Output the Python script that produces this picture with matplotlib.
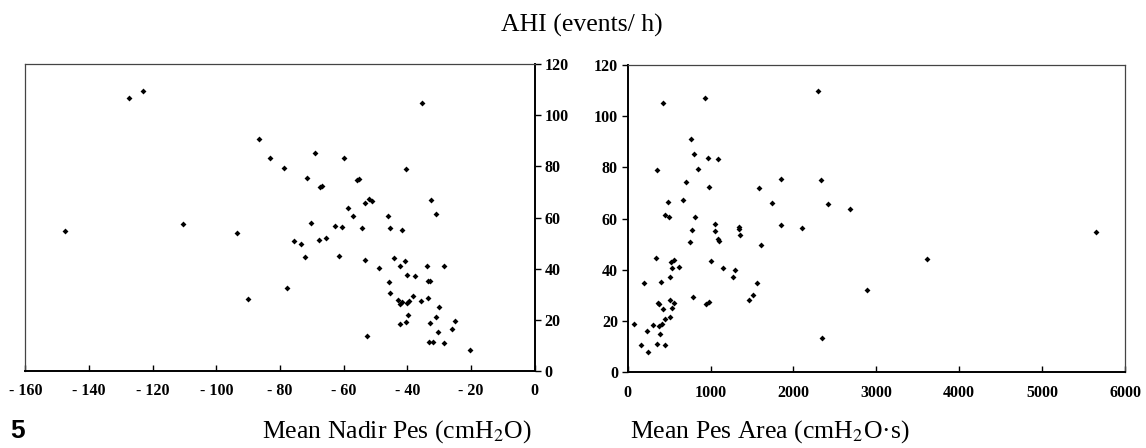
import matplotlib
matplotlib.use("Agg")
import matplotlib.pyplot as plt

# Left panel: Mean Nadir Pes (cmH2O) vs AHI
nadir_pes = [-147.4, -127.5, -122.9, -110.5, -93.4, -90.1, -86.5, -83.1, -78.6, -77.7,
             -75.7, -73.4, -72.1, -71.4, -70.2, -68.9, -67.4, -66.8, -67.6, -65.5,
             -62.8, -61.5, -60.6, -59.8, -58.7, -57.1, -55.9, -55.3, -54.3, -53.3,
             -53.4, -52.1, -51.0, -52.6, -48.8, -46.1, -45.5, -45.7, -45.5, -44.3,
             -43.0, -42.4, -41.6, -42.3, -42.2, -41.8, -40.7, -40.3, -40.2, -40.4,
             -39.9, -40.0, -39.4, -37.7, -38.2, -35.6, -35.3, -33.7, -33.6, -33.4,
             -32.9, -33.3, -32.0, -32.8, -32.5, -31.1, -30.9, -30.1, -30.3, -28.6,
             -28.4, -25.9, -25.1, -20.3]
ahi_nadir = [54.8, 106.8, 109.4, 57.4, 53.8, 28.2, 90.8, 83.2, 79.4, 32.5,
             50.8, 49.6, 44.7, 75.4, 58.0, 85.2, 72.0, 72.3, 51.2, 52.0,
             56.7, 44.9, 56.2, 83.4, 63.7, 60.5, 74.6, 75.1, 55.8, 65.7,
             43.5, 67.2, 66.3, 13.7, 40.1, 60.5, 55.9, 34.9, 30.3, 44.1,
             27.8, 26.0, 27.0, 18.3, 41.0, 55.0, 43.0, 78.8, 37.6, 19.2,
             21.8, 26.4, 27.2, 37.2, 29.4, 27.3, 104.8, 41.1, 28.4, 35.1,
             35.1, 11.1, 11.4, 18.7, 66.7, 21.2, 61.3, 25.1, 15.0, 41.0,
             10.8, 16.2, 19.3, 8.0]

# Right panel: Mean Pes Area (cmH2O·s) vs AHI
pes_area = [421, 931, 759, 799, 963, 1088, 349, 843, 706, 983,
            1582, 482, 663, 449, 501, 807, 1048, 775, 1056, 1337,
            1337, 1349, 1092, 1104, 755, 1610, 337, 562, 522, 1004,
            538, 622, 1145, 1297, 1272, 514, 196, 401, 1558, 1514,
            783, 1465, 361, 381, 506, 562, 940, 983, 429, 538,
            449, 514, 72, 309, 377, 417, 233, 393, 160, 357,
            453, 241, 2297, 1851, 2337, 1735, 2417, 2687, 1855, 2100,
            2887, 2345, 3614, 5646]
ahi_area = [105.3, 107.2, 91.0, 85.2, 83.5, 83.3, 79.0, 79.5, 74.5, 72.3,
            72.1, 66.6, 67.1, 61.3, 60.5, 60.6, 58.1, 55.6, 55.0, 56.8,
            56.0, 53.8, 51.9, 51.2, 50.7, 49.6, 44.8, 44.0, 42.9, 43.4,
            40.8, 41.2, 40.9, 39.9, 37.4, 37.1, 34.8, 35.2, 34.8, 30.1,
            29.3, 28.1, 27.1, 26.6, 28.1, 27.1, 26.5, 27.6, 24.9, 25.3,
            21.0, 21.6, 19.0, 18.5, 18.0, 19.0, 16.0, 14.9, 10.7, 11.2,
            10.8, 7.8, 109.9, 75.4, 75.1, 66.3, 65.7, 63.7, 57.6, 56.2,
            32.3, 13.4, 44.4, 54.8]

y_ticks = [0, 20, 40, 60, 80, 100, 120]
left_xticks = [-160, -140, -120, -100, -80, -60, -40, -20, 0]
left_xlabels = ["- 160", "- 140", "- 120", "- 100", "- 80", "- 60", "- 40", "- 20", "0"]
right_xticks = [0, 1000, 2000, 3000, 4000, 5000, 6000]

plt.rcParams['font.family'] = ['Liberation Serif', 'DejaVu Serif']
plt.rcParams['mathtext.fontset'] = 'stix'

W, H = 1146, 448
fig = plt.figure(figsize=(W / 100, H / 100), dpi=100)

def px_axes(x0, x1, ytop, ybot):
    return fig.add_axes([x0 / W, (H - ybot) / H, (x1 - x0) / W, (ybot - ytop) / H])

tick_font = dict(fontsize=11.5, fontweight='bold', family='Liberation Serif')

# Left panel
ax1 = px_axes(25.3, 534.6, 64.3, 370.7)
ax1.scatter(nadir_pes, ahi_nadir, marker='D', s=9, color='black', linewidths=0, zorder=3)
ax1.set_xlim(-160, 0)
ax1.set_ylim(0, 120)
ax1.set_xticks(left_xticks)
ax1.set_xticklabels(left_xlabels, **tick_font)
ax1.set_yticks(y_ticks)
ax1.set_yticklabels([str(v) for v in y_ticks], **tick_font)
ax1.yaxis.tick_right()
ax1.tick_params(axis='x', direction='in', length=4, width=1, pad=9, colors='black')
ax1.tick_params(axis='y', direction='out', length=4, width=1, pad=3)
for side in ['left', 'top']:
    ax1.spines[side].set_linewidth(0.9)
    ax1.spines[side].set_color('#444444')
for side in ['bottom', 'right']:
    ax1.spines[side].set_linewidth(1.4)

# Right panel
ax2 = px_axes(627.7, 1125.0, 65.0, 372.3)
ax2.scatter(pes_area, ahi_area, marker='D', s=9, color='black', linewidths=0, zorder=3)
ax2.set_xlim(0, 6000)
ax2.set_ylim(0, 120)
ax2.set_xticks(right_xticks)
ax2.set_xticklabels([str(v) for v in right_xticks], **tick_font)
ax2.set_yticks(y_ticks)
ax2.set_yticklabels([str(v) for v in y_ticks], **tick_font)
ax2.tick_params(axis='x', direction='in', length=4, width=1, pad=9)
ax2.tick_params(axis='y', direction='out', length=4, width=1, pad=3)
for side in ['right', 'top']:
    ax2.spines[side].set_linewidth(0.9)
    ax2.spines[side].set_color('#444444')
for side in ['bottom', 'left']:
    ax2.spines[side].set_linewidth(1.4)

fig.text(582 / W, 1 - 32 / H, "AHI (events/ h)", ha='center', va='baseline', fontsize=18.5)
fig.text(397 / W, 1 - 438 / H, "Mean Nadir Pes (cmH$_2$O)", ha='center', va='baseline', fontsize=18.5)
fig.text(770 / W, 1 - 438 / H, "Mean Pes Area (cmH$_2$O·s)", ha='center', va='baseline', fontsize=18.5)
fig.text(10 / W, 1 - 438 / H, "5", ha='left', va='baseline', fontsize=19, fontweight='bold',
         family='Liberation Sans')

fig.savefig("out.png", dpi=100)
